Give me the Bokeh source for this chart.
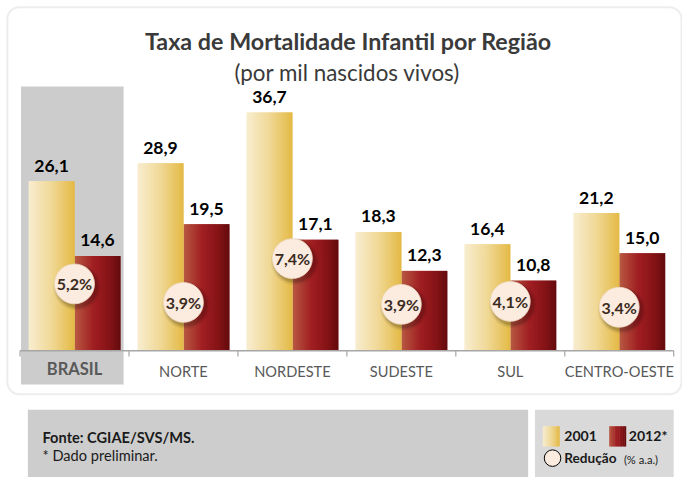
import numpy as np
from bokeh.plotting import figure
from bokeh.models import Range1d, BoxAnnotation
from bokeh.core.properties import value
from bokeh.embed import file_html
from bokeh.resources import INLINE

# ---------------- data ----------------
regions = ["BRASIL", "NORTE", "NORDESTE", "SUDESTE", "SUL", "CENTRO-OESTE"]
rate_2001 = [26.1, 28.9, 36.7, 18.3, 16.4, 21.2]
rate_2012 = [14.6, 19.5, 17.1, 12.3, 10.8, 15.0]
reduction = [5.2, 3.9, 7.4, 3.9, 4.1, 3.4]          # % a.a.
badge_level = [10.3, 7.45, 14.2, 7.15, 7.6, 6.7]     # where each badge sits (chart units)

title = "Taxa de Mortalidade Infantil por Região"
subtitle = "(por mil nascidos vivos)"
source_txt = "Fonte: CGIAE/SVS/MS."
note_txt = "* Dado preliminar."

FONT = "Lato"

# ---------------- layout helpers (design px -> chart units) ----------------
W, H = 682, 477
DW, DH = 698, 493    # design canvas
S = (W / DW + H / DH) / 2   # scale for screen sizes
CAT_PX = 111.5       # px per category
X0_PX = 20           # x of first category boundary
BASE_PX = 362        # y of baseline
PPU = 6.71           # px per unit


def dx(xp):
    return (xp - X0_PX) / CAT_PX


def dy(yp):
    return (BASE_PX - yp) / PPU


def fs(px):
    return f"{px * S:.1f}px"


def fmt(v):
    return f"{v:.1f}".replace(".", ",")


def hex2rgb(h):
    h = h.lstrip("#")
    return np.array([int(h[i:i + 2], 16) for i in (0, 2, 4)], dtype=float)


def grad(stops, t):
    for (p0, c0), (p1, c1) in zip(stops[:-1], stops[1:]):
        if p0 <= t <= p1:
            f = (t - p0) / (p1 - p0) if p1 > p0 else 0
            c = hex2rgb(c0) * (1 - f) + hex2rgb(c1) * f
            return "#%02x%02x%02x" % tuple(int(round(v)) for v in c)
    return stops[-1][1]


YEL = [(0.0, "#F8EDD0"), (0.5, "#F0D896"), (1.0, "#E4BA45")]
RED = [(0.0, "#B85A42"), (0.42, "#A01E22"), (0.75, "#861417"), (1.0, "#640B0D")]

p = figure(width=W, height=H, x_range=Range1d(dx(0), dx(DW)),
           y_range=Range1d(dy(DH), dy(0)), x_axis_type=None, y_axis_type=None,
           toolbar_location=None, output_backend="svg", min_border=0)
p.outline_line_color = None
p.grid.visible = False
p.background_fill_color = "white"
p.border_fill_color = "white"

# BRASIL highlight
p.quad(left=dx(21), right=dx(126), bottom=dy(397), top=dy(89),
       fill_color="#CCCCCC", line_color=None)

# gradient bars built from thin slices (left-to-right, each overlapping the next)
N = 36
BW = 47 / CAT_PX
SW = BW / N
lefts, rights, tops, cols = [], [], [], []
for i in range(len(regions)):
    c = i + 0.5
    for k in range(N):
        t = (k + 0.5) / N
        ext = 0 if k == N - 1 else SW
        lefts.append(c - BW + k * SW)
        rights.append(c - BW + (k + 1) * SW + ext)
        tops.append(rate_2001[i])
        cols.append(grad(YEL, t))
        lefts.append(c + k * SW)
        rights.append(c + (k + 1) * SW + ext)
        tops.append(rate_2012[i])
        cols.append(grad(RED, t))
p.quad(left=lefts, right=rights, top=tops, bottom=0, fill_color=cols, line_color=None)

centers = [i + 0.5 for i in range(len(regions))]

# axis line + ticks
p.segment(x0=[0], x1=[len(regions)], y0=[0], y1=[0], line_color="#A6A6A6", line_width=1.5)
p.segment(x0=list(range(len(regions) + 1)), x1=list(range(len(regions) + 1)),
          y0=0, y1=dy(BASE_PX + 6), line_color="#A6A6A6", line_width=1.2)

# value labels
lab_kw = dict(y_offset=-16 * S, text_align="center", text_baseline="middle",
              text_font=value(FONT), text_font_style="bold", text_font_size=fs(18),
              text_color="black")
p.text(x=[c - BW / 2 for c in centers], y=rate_2001, text=[fmt(v) for v in rate_2001], **lab_kw)
p.text(x=[c + BW / 2 for c in centers], y=rate_2012, text=[fmt(v) for v in rate_2012], **lab_kw)

# reduction badges with soft shadow
sh_dx, sh_dy = 2.5 / CAT_PX, -3 / PPU
for s, a in [(49, 0.05), (46, 0.08), (43, 0.12)]:
    p.scatter(x=[c + sh_dx for c in centers], y=[b + sh_dy for b in badge_level],
              marker="circle", size=s * S, fill_color="black", fill_alpha=a, line_color=None)
p.scatter(x=centers, y=badge_level, marker="circle", size=41 * S,
          fill_color="#FBECDF", line_color="#F3DCC8", line_width=0.8)
p.text(x=centers, y=badge_level, text=[fmt(v) + "%" for v in reduction],
       text_align="center", text_baseline="middle", text_font=value(FONT),
       text_font_style="bold", text_font_size=fs(16.5), text_color="#3B2B1F")

# category labels
p.text(x=[centers[0]], y=[dy(381)], text=[regions[0]], text_align="center",
       text_baseline="middle", text_font=value(FONT), text_font_style="bold",
       text_font_size=fs(17), text_color="#595959")
p.text(x=centers[1:], y=[dy(383)] * (len(regions) - 1), text=regions[1:], text_align="center",
       text_baseline="middle", text_font=value(FONT), text_font_size=fs(15),
       text_color="#595959")

# titles
p.text(x=[dx(356)], y=[dy(42)], text=[title], text_align="center", text_baseline="middle",
       text_font=value(FONT), text_font_style="bold", text_font_size=fs(24),
       text_color="#3A3A3A")
p.text(x=[dx(355)], y=[dy(74)], text=[subtitle], text_align="center", text_baseline="middle",
       text_font=value(FONT), text_font_size=fs(23), text_color="#3A3A3A")

# outer rounded frame
p.add_layout(BoxAnnotation(left=dx(7), right=dx(697), top=dy(7), bottom=dy(407),
                           fill_alpha=0, line_color="#C4C4C4", line_width=2,
                           border_radius=12, level="underlay"))

# footer boxes
p.quad(left=dx(28), right=dx(540), top=dy(423), bottom=dy(495),
       fill_color="#CDCDCD", line_color=None)
p.quad(left=dx(547), right=dx(689), top=dy(423), bottom=dy(495),
       fill_color="#D9D9D9", line_color=None)
p.text(x=[dx(43)], y=[dy(452)], text=[source_txt], text_align="left", text_baseline="middle",
       text_font=value(FONT), text_font_style="bold", text_font_size=fs(15),
       text_color="#1A1A1A")
p.text(x=[dx(43)], y=[dy(470)], text=[note_txt], text_align="left", text_baseline="middle",
       text_font=value(FONT), text_font_size=fs(15), text_color="#1A1A1A")

# legend swatches (gradient)
M = 10
for (x_left, stops) in [(555, YEL), (623, RED)]:
    sw = 17 / M
    p.quad(left=[dx(x_left + k * sw) for k in range(M)],
           right=[dx(x_left + (k + 1) * sw + 0.4) for k in range(M)],
           top=dy(440), bottom=dy(461),
           fill_color=[grad(stops, (k + 0.5) / M) for k in range(M)], line_color=None)
p.text(x=[dx(577), dx(643)], y=[dy(450)] * 2, text=["2001", "2012*"], text_align="left",
       text_baseline="middle", text_font=value(FONT), text_font_style="bold",
       text_font_size=fs(14.5), text_color="#1A1A1A")
p.scatter(x=[dx(565)], y=[dy(473)], marker="circle", size=17 * S, fill_color="#FBECDF",
          line_color="black", line_width=1)
p.text(x=[dx(577)], y=[dy(473)], text=["Redução"], text_align="left", text_baseline="middle",
       text_font=value(FONT), text_font_style="bold", text_font_size=fs(14),
       text_color="#1A1A1A")
p.text(x=[dx(638)], y=[dy(474)], text=["(% a.a.)"], text_align="left", text_baseline="middle",
       text_font=value(FONT), text_font_size=fs(11.5), text_color="#1A1A1A")

open("out.html", "w").write(file_html(p, INLINE))
